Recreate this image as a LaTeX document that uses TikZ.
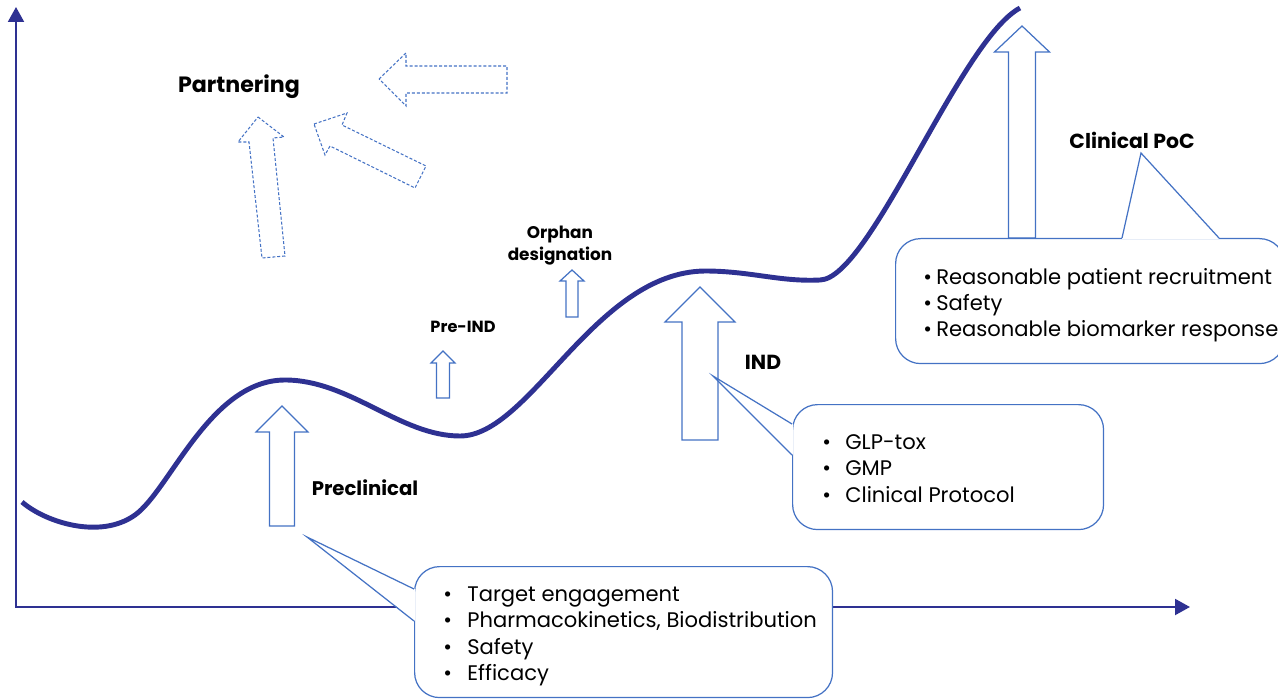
\documentclass[tikz,border=0pt]{standalone}
\usepackage{fontspec}
\setmainfont{Poppins}
\usetikzlibrary{arrows.meta,positioning}
\definecolor{curveblue}{RGB}{46,49,146}
\definecolor{boxblue}{RGB}{68,114,196}
\tikzset{axis line/.style={curveblue,line width=1.4pt},
         pipeline/.style={curveblue,line width=2.8pt},
         block arrow/.style={boxblue,fill=white,line width=0.7pt},
         partner arrow/.style={boxblue,line width=0.6pt,dash pattern=on 1.7pt off 1.1pt},
         callout/.style={draw=boxblue,fill=white,line width=0.7pt,rounded corners=0.5cm,inner sep=0pt,anchor=north west},
         pointer/.style={boxblue,line width=0.7pt},
         stage label/.style={font=\bfseries\fontsize{11.6}{13}\selectfont,inner sep=0pt},
         item/.style={font=\fontsize{12}{14}\selectfont,inner sep=0pt,anchor=base west},
}
% vertical block arrow: x, tip y, head base y, head half width, shaft half width, bottom y
\newcommand{\blockup}[6]{\draw[block arrow] (#1,#2) -- ({#1+#4},#3) -- ({#1+#5},#3) -- ({#1+#5},#6)
  -- ({#1-#5},#6) -- ({#1-#5},#3) -- ({#1-#4},#3) -- cycle;}
\newcommand{\bul}[1]{\makebox[#1][l]{\textbullet}}

\begin{document}
\begin{tikzpicture}[x=0.02cm,y=-0.02cm]
\useasboundingbox (0,0) rectangle (1278,699);
\clip (0,0) rectangle (1278,699);

% axes
\coordinate (ytop) at (16,7);
\coordinate (origin) at (16,607);
\coordinate (xend) at (1190,607);
\draw[axis line,{Triangle[length=8.5pt,width=9pt]}-{Triangle[length=8.5pt,width=9pt]}] (ytop) -- (origin) -- (xend);

% development curve
\draw[pipeline] (22,502) .. controls (45,522) and (100,540) .. (135,515)
  .. controls (170,490) and (210,380) .. (285,380)
  .. controls (350,380) and (400,436) .. (460,436)
  .. controls (530,436) and (595,272) .. (705,271)
  .. controls (750,271) and (780,282) .. (820,280)
  .. controls (870,279) and (960,40) .. (1020,8);

% milestones
\blockup{282}{406}{432}{26}{12.5}{526}
\blockup{443}{351}{363}{12}{6.5}{398}
\blockup{572}{270}{281}{12}{6}{317}
\blockup{700}{287}{322}{35}{18}{440}
\blockup{1022}{26}{52}{27.5}{13.5}{238}

% partnering
\draw[partner arrow] (258,117) -- (284,137) -- (273,138) -- (285,256) -- (262,258) -- (249,142) -- (238,142) -- cycle;
\draw[partner arrow] (314,124) -- (347,113) -- (342,125) -- (426,166) -- (415,188) -- (330,146) -- (325,155) -- cycle;
\draw[partner arrow] (379,79) -- (406,53) -- (406,66) -- (507,66) -- (507,93) -- (406,93) -- (406,106) -- cycle;

\node[stage label,font=\bfseries\fontsize{12.6}{14}\selectfont] (partnering) at (239,87) {Partnering};
\node[stage label,font=\bfseries\fontsize{11.2}{13}\selectfont] (preclinical) at (365,488) {Preclinical};
\node[stage label,font=\bfseries\fontsize{9.2}{10.5}\selectfont] (preind) at (463,327) {Pre-IND};
\node[stage label,font=\bfseries\fontsize{9.6}{12.5}\selectfont,align=center] (orphan) at (560,246) {Orphan\\designation};
\node[stage label] (ind) at (763,362) {IND};
\node[stage label] (poc) at (1132,140) {Clinical PoC};

% callouts
\node[callout,minimum width=8.36cm,minimum height=2.62cm] (pcbox) at (414,566) {};
\coordinate (pctip) at (307,537);
\fill[white] (pctip) -- (415,589) -- (415,621) -- cycle;
\draw[pointer] (414,589) -- (pctip) -- (414,621);
\foreach \txt [count=\i] in {Target engagement, {Pharmacokinetics, Biodistribution}, Safety, Efficacy}
  \node[item] (pc\i) at (443,{601+26.5*(\i-1)}) {\bul{0.48cm}\txt};

\node[callout,minimum width=6.22cm,minimum height=2.5cm] (indbox) at (792,404) {};
\coordinate (indtip) at (713,376);
\fill[white] (indtip) -- (793,424) -- (793,455) -- cycle;
\draw[pointer] (792,424) -- (indtip) -- (792,455);
\foreach \txt [count=\i] in {GLP-tox, GMP, Clinical Protocol}
  \node[item] (ind\i) at (822,{449+26.5*(\i-1)}) {\bul{0.46cm}\txt};

\node[callout,minimum width=7.78cm,minimum height=2.5cm] (pocbox) at (895,238) {};
\coordinate (poctip) at (1141,153);
\fill[white] (1122,239) -- (poctip) -- (1219,239) -- cycle;
\draw[pointer] (1122,238) -- (poctip) -- (1219,238);
\foreach \txt [count=\i] in {Reasonable patient recruitment, Safety, Reasonable biomarker response}
  \node[item] (poc\i) at (923,{284+26.5*(\i-1)}) {\bul{0.26cm}\txt};

\end{tikzpicture}
\end{document}
